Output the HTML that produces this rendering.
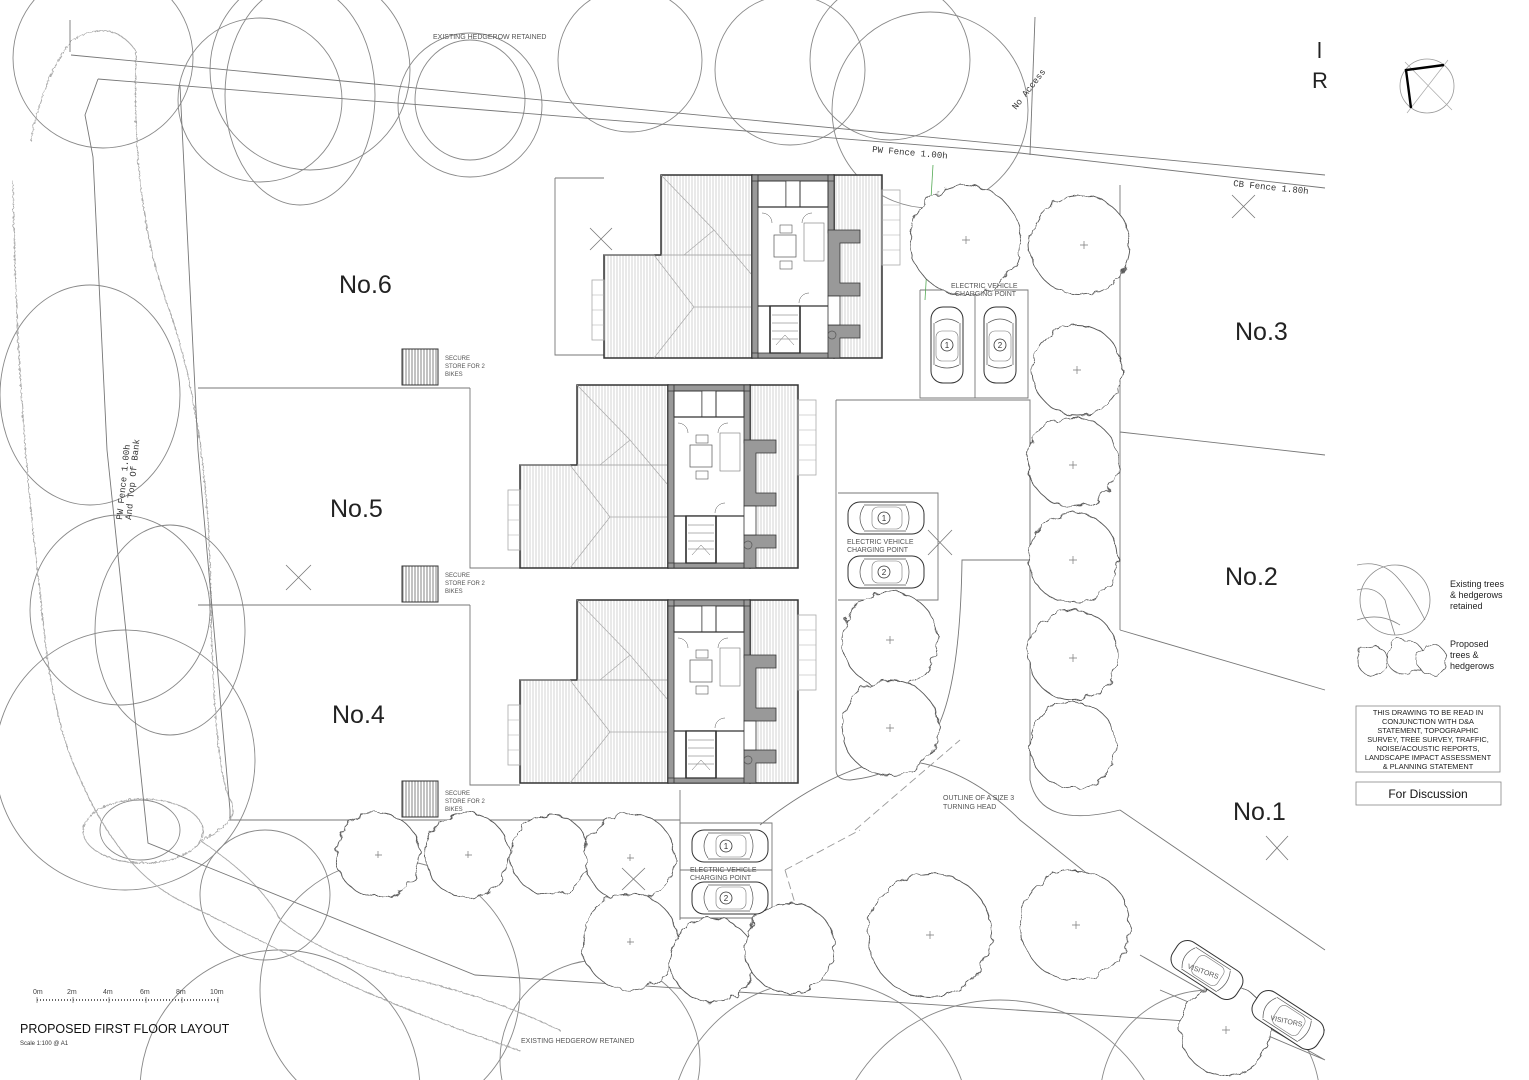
<!DOCTYPE html>
<html><head><meta charset="utf-8"><style>
html,body{margin:0;padding:0;background:#fff;width:1529px;height:1080px;overflow:hidden;}
svg{display:block;font-family:"Liberation Sans",sans-serif;}
</style></head><body>
<svg width="1529" height="1080" viewBox="0 0 1529 1080" xmlns="http://www.w3.org/2000/svg">
<defs>
<pattern id="hatch" width="3" height="10" patternUnits="userSpaceOnUse"><rect width="3" height="10" fill="#fff"/><line x1="1" y1="0" x2="1" y2="10" stroke="#c8c8c8" stroke-width="0.8"/></pattern>
<pattern id="hatchD" width="3" height="10" patternUnits="userSpaceOnUse"><rect width="3" height="10" fill="#fff"/><line x1="1" y1="0" x2="1" y2="10" stroke="#666" stroke-width="0.8"/></pattern>
<filter id="rough" x="-20%" y="-20%" width="140%" height="140%"><feTurbulence type="fractalNoise" baseFrequency="0.09" numOctaves="2" seed="3"/><feDisplacementMap in="SourceGraphic" scale="9"/></filter>
<filter id="wavy" x="-10%" y="-10%" width="120%" height="120%"><feTurbulence type="turbulence" baseFrequency="0.25" numOctaves="1" seed="5"/><feDisplacementMap in="SourceGraphic" scale="3"/></filter>
<g id="house">
  <path d="M57 0 H148 V183 H0 V80 H57 Z" fill="url(#hatch)" stroke="#333" stroke-width="1.5"/>
  <path d="M57 80 H148" stroke="#999" stroke-width="0.8"/>
  <path d="M57 0 L110 55 L80 80 M110 55 L148 100 M0 80 L50 80 L90 132 L50 183 M90 132 L148 132" fill="none" stroke="#aaa" stroke-width="0.7"/>
  <rect x="-12" y="105" width="12" height="60" fill="none" stroke="#aaa" stroke-width="0.8"/>
  <path d="M-12 120 H0 M-12 135 H0 M-12 150 H0" stroke="#aaa" stroke-width="0.6"/>
  <rect x="230" y="0" width="48" height="183" fill="url(#hatch)" stroke="#333" stroke-width="1.5"/>
  <rect x="278" y="15" width="18" height="75" fill="none" stroke="#aaa" stroke-width="0.8"/>
  <path d="M278 30 H296 M278 45 H296 M278 60 H296 M278 75 H296" stroke="#aaa" stroke-width="0.6"/>
  <rect x="148" y="0" width="82" height="183" fill="#fff" stroke="#333" stroke-width="1.5"/>
  <path d="M148 0 h6 v183 h-6z M148 0 h82 v6 h-82z M148 178 h82 v5 h-82z M224 0 h6 v58 h-6z" fill="#999" stroke="#333" stroke-width="0.8"/>
  <path d="M224 55 h32 v13 h-20 v40 h20 v13 h-32z" fill="#999" stroke="#333" stroke-width="0.8"/>
  <path d="M224 150 h32 v13 h-20 v20 h-12z" fill="#999" stroke="#333" stroke-width="0.8"/>
  <rect x="224" y="121" width="12" height="29" fill="#fff" stroke="#333" stroke-width="0.8"/>
  <rect x="154" y="6" width="28" height="26" fill="none" stroke="#333" stroke-width="1"/>
  <rect x="182" y="6" width="14" height="26" fill="#fff" stroke="#333" stroke-width="0.6"/>
  <rect x="196" y="6" width="28" height="26" fill="none" stroke="#333" stroke-width="1"/>
  <path d="M154 32 H224 M154 131 H224" stroke="#333" stroke-width="1.3"/>
  <rect x="170" y="60" width="22" height="22" fill="none" stroke="#555" stroke-width="0.7"/>
  <rect x="176" y="50" width="12" height="8" fill="none" stroke="#555" stroke-width="0.6"/>
  <rect x="176" y="86" width="12" height="8" fill="none" stroke="#555" stroke-width="0.6"/>
  <rect x="200" y="48" width="20" height="38" fill="none" stroke="#777" stroke-width="0.6"/>
  <rect x="166" y="131" width="30" height="47" fill="#fff" stroke="#333" stroke-width="1.3"/>
  <path d="M168 140 H194 M168 148 H194 M168 156 H194 M168 164 H194 M172 170 L181 160 L190 170" stroke="#666" stroke-width="0.5" fill="none"/>
  <path d="M166 131 V178 M196 131 V178" stroke="#333" stroke-width="1.5"/>
  <circle cx="228" cy="160" r="4" fill="none" stroke="#555" stroke-width="0.7"/>
  <path d="M158 38 A10 10 0 0 1 168 48 M208 38 A10 10 0 0 0 198 48 M195 128 A10 10 0 0 1 205 118" fill="none" stroke="#555" stroke-width="0.5"/>
</g>
<g id="car">
  <rect x="-16" y="-38" width="32" height="76" rx="12" fill="#fff" stroke="#333" stroke-width="1"/>
  <path d="M-12 -22 Q0 -30 12 -22 M-12 20 Q0 26 12 20 M-13 -22 V20 M13 -22 V20" fill="none" stroke="#555" stroke-width="0.7"/>
  <rect x="-11" y="-14" width="22" height="30" rx="6" fill="none" stroke="#777" stroke-width="0.6"/>
  <circle cx="0" cy="0" r="6" fill="#fff" stroke="#333" stroke-width="0.8"/>
</g>
<g id="carH">
  <rect x="-38" y="-16" width="76" height="32" rx="12" fill="#fff" stroke="#333" stroke-width="1"/>
  <path d="M-22 -12 Q-30 0 -22 12 M20 -12 Q26 0 20 12 M-22 -13 H20 M-22 13 H20" fill="none" stroke="#555" stroke-width="0.7"/>
  <rect x="-14" y="-11" width="30" height="22" rx="6" fill="none" stroke="#777" stroke-width="0.6"/>
</g>
</defs>

<rect width="1529" height="1080" fill="#fff"/>

<g fill="none" stroke="#888" stroke-width="0.9">
  <circle cx="103" cy="58" r="90"/>
  <circle cx="260" cy="100" r="82"/>
  <circle cx="310" cy="70" r="100"/>
  <ellipse cx="300" cy="95" rx="75" ry="110"/>
  <circle cx="470" cy="105" r="72"/>
  <ellipse cx="470" cy="100" rx="55" ry="60"/>
  <circle cx="630" cy="60" r="72"/>
  <circle cx="790" cy="70" r="75"/>
  <circle cx="890" cy="60" r="80"/>
  <circle cx="930" cy="110" r="98"/>
  <ellipse cx="90" cy="395" rx="90" ry="110"/>
  <ellipse cx="120" cy="610" rx="90" ry="95"/>
  <ellipse cx="170" cy="630" rx="75" ry="105"/>
  <circle cx="125" cy="760" r="130"/>
  <ellipse cx="140" cy="830" rx="40" ry="30"/>
  <circle cx="265" cy="895" r="65"/>
  <circle cx="390" cy="990" r="130"/>
  <circle cx="600" cy="1060" r="100"/>
  <circle cx="820" cy="1130" r="150"/>
  <circle cx="1000" cy="1170" r="170"/>
  <circle cx="1210" cy="1100" r="110"/>
  <circle cx="280" cy="1090" r="140"/>
</g>
<path d="M30 140 Q40 80 70 40 Q110 15 135 50 Q130 200 165 300 Q210 420 210 620 Q215 780 230 800 Q240 820 200 840 Q260 880 280 920 Q330 960 420 980 Q500 1000 560 1030 M12 180 Q15 400 40 600 Q50 720 80 780 Q120 870 180 900 Q260 940 340 980 Q430 1020 520 1050" fill="none" stroke="#aaa" stroke-width="1" filter="url(#wavy)"/>
<ellipse cx="142" cy="830" rx="60" ry="32" fill="none" stroke="#aaa" stroke-width="1" filter="url(#wavy)"/>

<g fill="none" stroke="#777" stroke-width="0.9">
  <path d="M70 52 V20"/>
  <path d="M71 55 L1325 175"/>
  <path d="M98 79 L1020 153 L1325 188"/>
  <path d="M98 79 L85 115 L93 157 L107 450 L148 843 L475 975 L1325 1030"/>
  <path d="M180 86 L198 450 L230 810 V820 H470"/>
  <path d="M198 388 H470 M198 605 H470"/>
  <path d="M1035 17 L1030 155"/>
  <path d="M1120 185 V430 M1120 432 L1325 455 M1120 630 L1325 690 M1120 630 V430"/>
  <path d="M1120 810 L1325 950 M1140 955 L1325 1060 M1160 990 L1325 1060"/>
  <path d="M555 178 H604 M555 178 V355 H604"/>
  <path d="M470 388 V568 H520 M470 605 V785 H520"/>
  <path d="M836 400 V770 Q836 780 850 780 Q900 775 930 740 Q960 700 962 560 H1030"/>
  <path d="M836 400 H1030 V560"/>
  <path d="M838 493 H938 V600 H838"/>
  <path d="M920 290 V398 H1028 V290 H920 M975 290 V398"/>
  <path d="M680 823 H772 V918 H680 Z M680 870 H772"/>
  <path d="M680 790 V920"/>
  <path d="M1030 430 V780 Q1040 830 1120 810"/>
  <path d="M760 825 Q830 770 890 760 Q960 760 1020 820 L1120 900"/>
  <path d="M470 820 H680"/>
</g>
<path d="M855 830 L960 740 M785 870 L860 830 M785 870 L800 920" fill="none" stroke="#999" stroke-width="0.9" stroke-dasharray="8 4"/>
<path d="M933 165 L925 300" stroke="#5a5" stroke-width="0.8"/>

<g fill="#fff" stroke="#555" stroke-width="0.9" filter="url(#rough)">
  <circle cx="965" cy="240" r="55"/>
  <circle cx="1080" cy="245" r="50"/>
  <circle cx="1077" cy="370" r="45"/>
  <circle cx="1073" cy="462" r="45"/>
  <circle cx="1073" cy="558" r="45"/>
  <circle cx="1073" cy="655" r="45"/>
  <circle cx="1073" cy="745" r="43"/>
  <circle cx="890" cy="640" r="48"/>
  <circle cx="890" cy="728" r="48"/>
  <circle cx="378" cy="855" r="42"/>
  <circle cx="467" cy="855" r="42"/>
  <circle cx="550" cy="855" r="40"/>
  <circle cx="630" cy="858" r="45"/>
  <circle cx="630" cy="942" r="48"/>
  <circle cx="712" cy="960" r="42"/>
  <circle cx="790" cy="948" r="45"/>
  <circle cx="930" cy="935" r="62"/>
  <circle cx="1075" cy="925" r="55"/>
  <circle cx="1225" cy="1030" r="45"/>
</g>
<g stroke="#777" stroke-width="0.7">
  <path d="M962 240 h8 M966 236 v8 M1080 245 h8 M1084 241 v8 M1073 370 h8 M1077 366 v8 M1069 465 h8 M1073 461 v8 M1069 560 h8 M1073 556 v8 M1069 658 h8 M1073 654 v8 M886 640 h8 M890 636 v8 M886 728 h8 M890 724 v8 M375 855 h7 M378 851 v7 M465 855 h7 M468 851 v7 M627 858 h7 M630 854 v7 M627 942 h7 M630 938 v7 M926 935 h8 M930 931 v8 M1072 925 h8 M1076 921 v8 M1222 1030 h8 M1226 1026 v8"/>
</g>
<g stroke="#777" stroke-width="0.8">
  <path d="M590 228 L612 250 M612 228 L590 250"/>
  <path d="M1232 195 L1255 218 M1255 195 L1232 218"/>
  <path d="M286 565 L311 590 M311 565 L286 590"/>
  <path d="M928 530 L952 555 M952 530 L928 555"/>
  <path d="M1266 836 L1288 860 M1288 836 L1266 860"/>
  <path d="M622 868 L645 890 M645 868 L622 890"/>
</g>

<use href="#house" x="604" y="175"/>
<use href="#house" x="520" y="385"/>
<use href="#house" x="520" y="600"/>

<g fill="url(#hatchD)" stroke="#333" stroke-width="1">
  <rect x="402" y="349" width="36" height="36"/>
  <rect x="402" y="566" width="36" height="36"/>
  <rect x="402" y="781" width="36" height="36"/>
</g>
<g font-size="6" fill="#555">
  <text x="445" y="360">SECURE</text><text x="445" y="368">STORE FOR 2</text><text x="445" y="376">BIKES</text>
  <text x="445" y="577">SECURE</text><text x="445" y="585">STORE FOR 2</text><text x="445" y="593">BIKES</text>
  <text x="445" y="795">SECURE</text><text x="445" y="803">STORE FOR 2</text><text x="445" y="811">BIKES</text>
</g>

<use href="#car" x="947" y="345"/>
<use href="#car" x="1000" y="345"/>
<use href="#carH" x="886" y="518"/>
<use href="#carH" x="886" y="572"/>
<use href="#carH" x="730" y="846"/>
<use href="#carH" x="730" y="898"/>
<use href="#carH" transform="translate(1207,970) rotate(33)"/>
<use href="#carH" transform="translate(1288,1020) rotate(33)"/>
<g fill="#fff" stroke="#333" stroke-width="0.8">
  <circle cx="884" cy="518" r="6"/><circle cx="884" cy="572" r="6"/>
  <circle cx="726" cy="846" r="6"/><circle cx="726" cy="898" r="6"/>
</g>
<g font-size="8" fill="#333" text-anchor="middle">
  <text x="947" y="348">1</text><text x="1000" y="348">2</text>
  <text x="884" y="521">1</text><text x="884" y="575">2</text>
  <text x="726" y="849">1</text><text x="726" y="901">2</text>
</g>
<g font-size="7" fill="#555">
  <text x="951" y="288">ELECTRIC VEHICLE</text><text x="955" y="296">CHARGING POINT</text>
  <text x="847" y="544">ELECTRIC VEHICLE</text><text x="847" y="552">CHARGING POINT</text>
  <text x="690" y="872">ELECTRIC VEHICLE</text><text x="690" y="880">CHARGING POINT</text>
  <text x="943" y="800">OUTLINE OF A SIZE 3</text><text x="943" y="809">TURNING HEAD</text>
  <text x="433" y="39">EXISTING HEDGEROW RETAINED</text>
  <text x="521" y="1043">EXISTING HEDGEROW RETAINED</text>
  <text transform="translate(1187,968) rotate(20)">VISITORS</text>
  <text transform="translate(1270,1020) rotate(12)">VISITORS</text>
</g>
<g font-size="9" fill="#333" font-family="Liberation Mono,monospace">
  <text x="872" y="152" transform="rotate(5 872 152)">PW Fence 1.00h</text>
  <text x="1233" y="186" transform="rotate(6 1233 186)">CB Fence 1.80h</text>
  <text x="1016" y="110" transform="rotate(-52 1016 110)">No Access</text>
  <text x="122" y="520" transform="rotate(-84 122 520)">PW Fence 1.00h</text>
  <text x="131" y="520" transform="rotate(-84 131 520)">And Top Of Bank</text>
</g>

<g font-size="25" fill="#222">
  <text x="339" y="293">No.6</text>
  <text x="330" y="517">No.5</text>
  <text x="332" y="723">No.4</text>
  <text x="1235" y="340">No.3</text>
  <text x="1225" y="585">No.2</text>
  <text x="1233" y="820">No.1</text>
</g>
<text x="1317" y="58" font-size="22" fill="#222">l</text>
<text x="1312" y="88" font-size="22" fill="#222">R</text>

<circle cx="1427" cy="86" r="27" fill="none" stroke="#999" stroke-width="0.8"/>
<path d="M1405 62 L1452 110 M1448 60 L1407 113" stroke="#aaa" stroke-width="0.7"/>
<path d="M1411 108 L1406 70 L1444 65" fill="none" stroke="#000" stroke-width="2.4"/>

<g fill="none" stroke="#888" stroke-width="0.8">
  <circle cx="1395" cy="600" r="35"/>
  <path d="M1357 565 Q1380 560 1395 575 Q1410 590 1425 620 M1357 590 Q1375 585 1385 600 Q1390 620 1395 635 M1357 620 Q1380 612 1400 625"/>
</g>
<g fill="#fff" stroke="#555" stroke-width="0.8" filter="url(#rough)">
  <circle cx="1372" cy="660" r="15"/>
  <circle cx="1405" cy="657" r="18"/>
  <circle cx="1432" cy="660" r="15"/>
</g>
<g font-size="9" fill="#222">
  <text x="1450" y="587">Existing trees</text><text x="1450" y="598">&amp; hedgerows</text><text x="1450" y="609">retained</text>
  <text x="1450" y="647">Proposed</text><text x="1450" y="658">trees &amp;</text><text x="1450" y="669">hedgerows</text>
</g>
<rect x="1356" y="706" width="144" height="66" fill="none" stroke="#888" stroke-width="0.8"/>
<g font-size="7.4" fill="#222" text-anchor="middle">
  <text x="1428" y="715">THIS DRAWING TO BE READ IN</text>
  <text x="1428" y="724">CONJUNCTION WITH D&amp;A</text>
  <text x="1428" y="733">STATEMENT, TOPOGRAPHIC</text>
  <text x="1428" y="742">SURVEY, TREE SURVEY, TRAFFIC,</text>
  <text x="1428" y="751">NOISE/ACOUSTIC REPORTS,</text>
  <text x="1428" y="760">LANDSCAPE IMPACT ASSESSMENT</text>
  <text x="1428" y="769">&amp; PLANNING STATEMENT</text>
</g>
<rect x="1356" y="782" width="145" height="23" fill="none" stroke="#888" stroke-width="0.8"/>
<text x="1428" y="798" font-size="12" fill="#111" text-anchor="middle">For Discussion</text>

<g font-size="7" fill="#444">
  <text x="33" y="994">0m</text><text x="67" y="994">2m</text><text x="103" y="994">4m</text><text x="140" y="994">6m</text><text x="176" y="994">8m</text><text x="210" y="994">10m</text>
</g>
<path d="M37 1000 H218" stroke="#666" stroke-width="2" stroke-dasharray="1 2"/>
<path d="M37 997 V1003 M73 997 V1003 M109 997 V1003 M146 997 V1003 M182 997 V1003 M218 997 V1003" stroke="#666" stroke-width="0.7"/>
<text x="20" y="1033" font-size="12.5" fill="#111">PROPOSED FIRST FLOOR LAYOUT</text>
<text x="20" y="1045" font-size="6" fill="#333">Scale 1:100 @ A1</text>
</svg>
</body></html>
